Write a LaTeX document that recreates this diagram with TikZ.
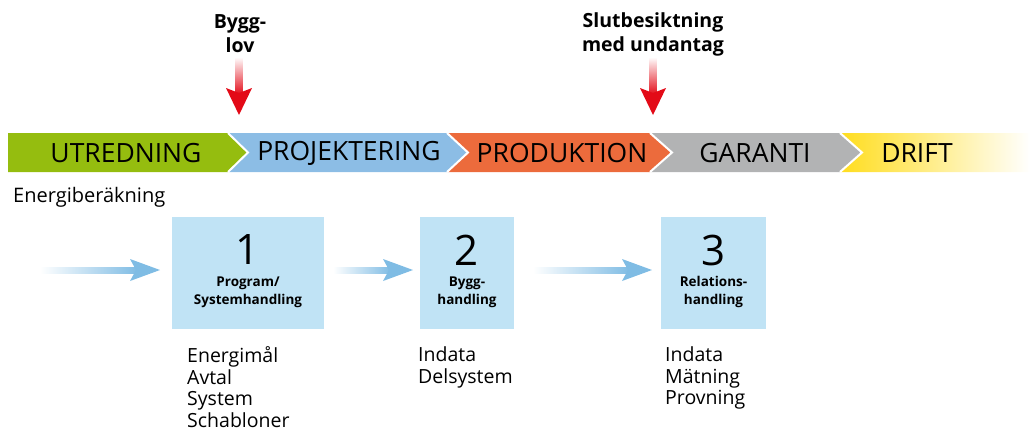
\documentclass[tikz,border=0pt]{standalone}
\usepackage{fontspec}
\setmainfont{Open Sans}
\usetikzlibrary{calc}
\definecolor{cgreen}{HTML}{95BD0F}
\definecolor{cblue}{HTML}{8CBDE5}
\definecolor{corange}{HTML}{EC6B3C}
\definecolor{cgray}{HTML}{B2B3B4}
\definecolor{cyellow}{HTML}{FFDD1E}
\definecolor{cbox}{HTML}{C0E3F5}
\definecolor{carrow}{HTML}{7FBCE4}
\definecolor{cred}{HTML}{E30A17}
\tikzset{
  phase/.style={font=\fontsize{26.5}{30}\selectfont, text=black, inner sep=0pt},
  event/.style={font=\bfseries\fontsize{19.5}{24}\selectfont, align=center, inner sep=0pt},
  docbox/.style={fill=cbox, minimum height=112pt, inner sep=0pt},
  docnum/.style={font=\fontsize{42}{44}\selectfont, inner sep=0pt},
  doclabel/.style={font=\bfseries\fontsize{13.5}{18}\selectfont, align=center, inner sep=0pt},
  listtext/.style={font=\fontsize{19.5}{21.5}\selectfont, align=left, anchor=north west, inner sep=0pt},
  sep/.style={white, line width=2pt}
}
\newcommand\bluearrow[2]{%
  \shade[left color=white, right color=carrow] ($(#1)+(0,-3)$) rectangle ($(#2)+(-22,3)$);
  \fill[carrow] ($(#2)+(-30,-11)$) -- (#2) -- ($(#2)+(-30,11)$) -- ($(#2)+(-24,0)$) -- cycle;
}
\newcommand\redarrow[2]{%
  \shade[top color=white, bottom color=cred] ($(#1)+(-3.5,0)$) rectangle ($(#2)+(3.5,-20)$);
  \fill[cred] ($(#2)+(-13,-27)$) -- (#2) -- ($(#2)+(13,-27)$) -- ($(#2)+(0,-22)$) -- cycle;
}
\begin{document}
\begin{tikzpicture}[x=1pt,y=-1pt]
\useasboundingbox (0,0) rectangle (1030,432);
% phase band
\fill[cgreen] (8,133) -- (228,133) -- (248,152.5) -- (228,172) -- (8,172) -- cycle;
\fill[cblue] (228,133) -- (447,133) -- (468,152.5) -- (447,172) -- (228,172) -- (248,152.5) -- cycle;
\fill[corange] (447,133) -- (650,133) -- (672,152.5) -- (650,172) -- (447,172) -- (468,152.5) -- cycle;
\fill[cgray] (650,133) -- (840,133) -- (862,152.5) -- (840,172) -- (650,172) -- (672,152.5) -- cycle;
\shade[left color=cyellow, right color=white] (840,133) -- (1030,133) -- (1030,172) -- (840,172) -- (862,152.5) -- cycle;
\draw[sep] (228,133) -- (248,152.5) -- (228,172);
\draw[sep] (447,133) -- (468,152.5) -- (447,172);
\draw[sep] (650,133) -- (672,152.5) -- (650,172);
\draw[sep] (840,133) -- (862,152.5) -- (840,172);
\node[phase] (utr) at (126,153) {UTREDNING};
\node[phase] (proj) at (349,153) {PROJEKTERING};
\node[phase] (prod) at (562,153) {PRODUKTION};
\node[phase] (gar) at (755,153) {GARANTI};
\node[phase] (drift) at (917,153) {DRIFT};
% events
\node[event] (bygglov) at (240,34) {Bygg-\\lov};
\node[event] (slut) at (653,34) {Slutbesiktning\\med undantag};
\coordinate (lovtop) at (239,57);
\coordinate (lovtip) at (239,115);
\coordinate (sluttop) at (653,57);
\coordinate (sluttip) at (653,115);
\redarrow{lovtop}{lovtip}
\redarrow{sluttop}{sluttip}
% energy calc
\node[font=\fontsize{20}{24}\selectfont, anchor=west, inner sep=0pt] (energi) at (13,197) {Energiberäkning};
% boxes
\node[docbox, minimum width=152pt] (b1) at (248,273) {};
\node[docbox, minimum width=94pt] (b2) at (467,273) {};
\node[docbox, minimum width=105pt] (b3) at (713.5,273) {};
\node[docnum] (n1) at (248,250) {1};
\node[docnum] (n2) at (467,250) {2};
\node[docnum] (n3) at (713.5,250) {3};
\node[doclabel] (l1) at (248,292) {Program/\\Systemhandling};
\node[doclabel] (l2) at (467,292) {Bygg-\\handling};
\node[doclabel] (l3) at (713.5,292) {Relations-\\handling};
% flow arrows
\coordinate (start) at (40,270);
\coordinate (a1) at (160,270);
\coordinate (s2) at (333,270);
\coordinate (a2) at (413,270);
\coordinate (s3) at (533,270);
\coordinate (a3) at (652,270);
\bluearrow{start}{a1}
\bluearrow{s2}{a2}
\bluearrow{s3}{a3}
% lists
\node[listtext] (list1) at (187,346.5) {Energimål\\Avtal\\System\\Schabloner};
\node[listtext] (list2) at (418,346.5) {Indata\\Delsystem};
\node[listtext] (list3) at (665,346.5) {Indata\\Mätning\\Provning};
\end{tikzpicture}
\end{document}
